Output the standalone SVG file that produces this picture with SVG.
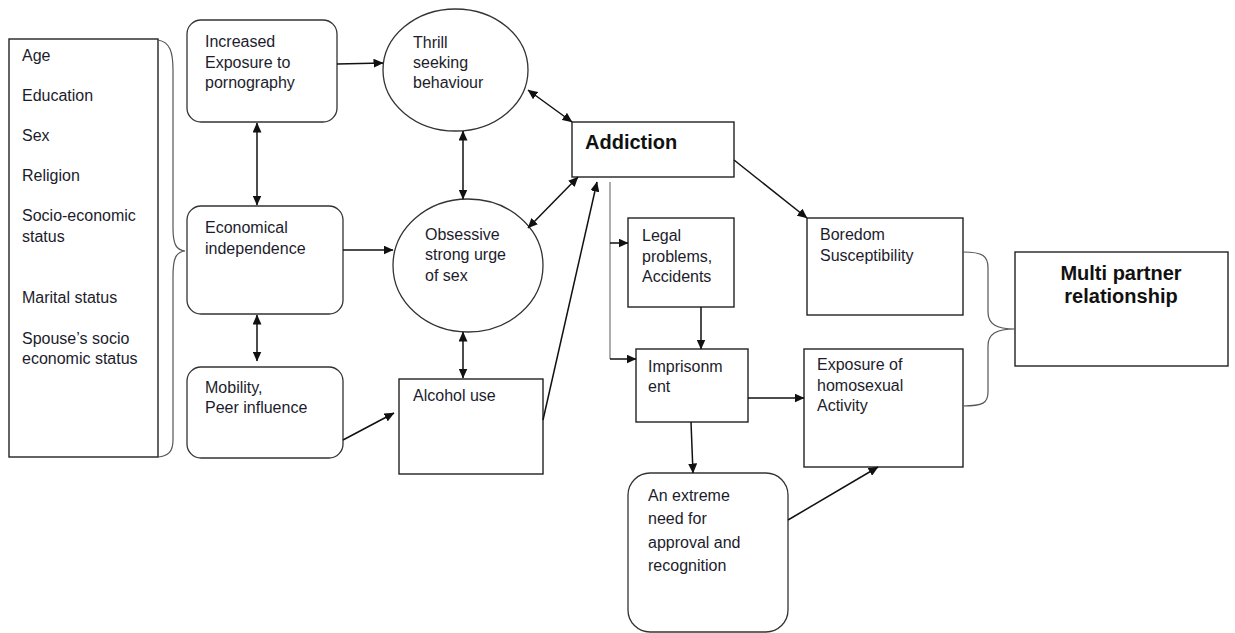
<svg xmlns="http://www.w3.org/2000/svg" width="1235" height="633" viewBox="0 0 1235 633">
<style>
.box{fill:#fff;stroke:#222;stroke-width:1.4}
.rbox{fill:#fff;stroke:#333;stroke-width:1.3}
.t{font-family:"Liberation Sans",Arial,sans-serif;font-size:16px;fill:#1c1c2c}
.b{font-family:"Liberation Sans",Arial,sans-serif;font-size:20px;font-weight:bold;fill:#111}
.c{fill:none;stroke:#111;stroke-width:1.5}
.g{fill:none;stroke:#999;stroke-width:1.6}
.br{fill:none;stroke:#555;stroke-width:1.2}
</style>
<defs>
<marker id="ah" viewBox="0 0 10 10" refX="9.5" refY="5" markerWidth="10" markerHeight="9" markerUnits="userSpaceOnUse" orient="auto-start-reverse" preserveAspectRatio="none">
<path d="M0,0 L10,5 L0,10 z" fill="#111"/>
</marker>
</defs>
<rect width="1235" height="633" fill="#fff"/>

<g id="factors">
<rect class="box" x="9" y="39" width="149" height="418"/>
<text class="t" x="22" y="61">Age</text>
<text class="t" x="22" y="101">Education</text>
<text class="t" x="22" y="141">Sex</text>
<text class="t" x="22" y="181">Religion</text>
<text class="t" x="22" y="221">Socio-economic</text>
<text class="t" x="22" y="242">status</text>
<text class="t" x="22" y="303">Marital status</text>
<text class="t" x="22" y="344">Spouse’s socio</text>
<text class="t" x="22" y="364">economic status</text>
</g>

<g id="brace-left">
<path class="br" d="M158,40 C170,42 173,52 173,70 L173,228 C173,244 176,250 185,251 C176,252 173,258 173,276 L173,440 C173,452 168,456 158,457"/>
</g>

<g id="porn">
<rect class="rbox" x="187" y="20" width="150" height="102" rx="14"/>
<text class="t" x="205" y="47">Increased</text>
<text class="t" x="205" y="68">Exposure to</text>
<text class="t" x="205" y="88">pornography</text>
</g>

<g id="econ">
<rect class="rbox" x="187" y="206" width="156" height="108" rx="14"/>
<text class="t" x="205" y="233">Economical</text>
<text class="t" x="205" y="254">independence</text>
</g>

<g id="mobility">
<rect class="rbox" x="187" y="367" width="156" height="91" rx="14"/>
<text class="t" x="205" y="393">Mobility,</text>
<text class="t" x="205" y="413">Peer influence</text>
</g>

<g id="thrill">
<ellipse class="rbox" cx="455.5" cy="70" rx="72.5" ry="61"/>
<text class="t" x="413" y="48">Thrill</text>
<text class="t" x="413" y="68">seeking</text>
<text class="t" x="413" y="88">behaviour</text>
</g>

<g id="obsessive">
<ellipse class="rbox" cx="468" cy="265.5" rx="75" ry="66.5"/>
<text class="t" x="425" y="240">Obsessive</text>
<text class="t" x="425" y="260">strong urge</text>
<text class="t" x="425" y="281">of sex</text>
</g>

<g id="alcohol">
<rect class="box" x="399" y="379" width="144" height="95"/>
<text class="t" x="413" y="401">Alcohol use</text>
</g>

<g id="addiction">
<rect class="box" x="572" y="122" width="162" height="55"/>
<text class="b" x="585" y="149">Addiction</text>
</g>

<g id="legal">
<rect class="box" x="628" y="218" width="106" height="89"/>
<text class="t" x="642" y="241">Legal</text>
<text class="t" x="642" y="262">problems,</text>
<text class="t" x="642" y="282">Accidents</text>
</g>

<g id="prison">
<rect class="box" x="636" y="349" width="112" height="73"/>
<text class="t" x="648" y="372">Imprisonm</text>
<text class="t" x="648" y="392">ent</text>
</g>

<g id="extreme">
<rect class="rbox" x="628" y="473" width="160" height="159" rx="22"/>
<text class="t" x="648" y="501">An extreme</text>
<text class="t" x="648" y="524">need for</text>
<text class="t" x="648" y="548">approval and</text>
<text class="t" x="648" y="571">recognition</text>
</g>

<g id="boredom">
<rect class="box" x="807" y="218" width="156" height="97"/>
<text class="t" x="820" y="240">Boredom</text>
<text class="t" x="820" y="261">Susceptibility</text>
</g>

<g id="homosexual">
<rect class="box" x="804" y="349" width="159" height="118"/>
<text class="t" x="817" y="370">Exposure of</text>
<text class="t" x="817" y="391">homosexual</text>
<text class="t" x="817" y="411">Activity</text>
</g>

<g id="multi">
<rect class="box" x="1015" y="252" width="213" height="114"/>
<text class="b" x="1121" y="280" text-anchor="middle">Multi partner</text>
<text class="b" x="1121" y="303" text-anchor="middle">relationship</text>
</g>

<g id="connectors">
<path class="c" d="M337,64 L383,63" marker-end="url(#ah)"/>
<path class="c" d="M257,123 L257,205" marker-start="url(#ah)" marker-end="url(#ah)"/>
<path class="c" d="M257,315 L257,361" marker-start="url(#ah)" marker-end="url(#ah)"/>
<path class="c" d="M343,250 L393,250" marker-end="url(#ah)"/>
<path class="c" d="M463,131 L463,199" marker-start="url(#ah)" marker-end="url(#ah)"/>
<path class="c" d="M463,332 L463,378" marker-start="url(#ah)" marker-end="url(#ah)"/>
<path class="c" d="M343,440 L394,413" marker-end="url(#ah)"/>
<path class="c" d="M543,420 L597,182" marker-end="url(#ah)"/>
<path class="c" d="M528,90 L572,122" marker-start="url(#ah)" marker-end="url(#ah)"/>
<path class="c" d="M528,228 L578,177" marker-start="url(#ah)" marker-end="url(#ah)"/>
<path class="c" d="M734,160 L807,218" marker-end="url(#ah)"/>
<path class="g" d="M610,182 L610,359"/>
<path class="c" d="M610,243 L628,243" marker-end="url(#ah)"/>
<path class="c" d="M610,359 L636,359" marker-end="url(#ah)"/>
<path class="c" d="M701,307 L701,349" marker-end="url(#ah)"/>
<path class="c" d="M748,398 L804,398" marker-end="url(#ah)"/>
<path class="c" d="M691,422 L693,473" marker-end="url(#ah)"/>
<path class="c" d="M788,520 L878,467" marker-end="url(#ah)"/>
<path class="br" d="M963,252 C983,252 988,256 988,268 L988,312 C988,324 996,329 1015,329 C996,329 988,334 988,346 L988,392 C988,403 983,406 963,406"/>
</g>
</svg>
